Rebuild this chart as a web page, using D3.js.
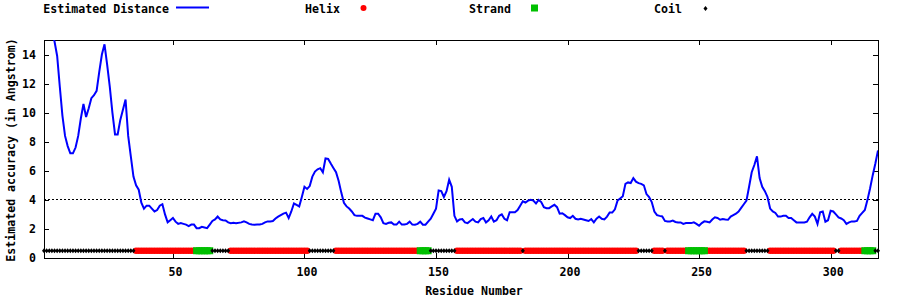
<!DOCTYPE html>
<html>
<head>
<meta charset="utf-8">
<script src="https://cdn.jsdelivr.net/npm/d3@7/dist/d3.min.js"></script>
<style>
  body { margin: 0; background: #fff; }
  text { font-family: 'DejaVu Sans Mono', 'Liberation Mono', monospace; font-weight: bold; font-size: 11.6px; fill: #000; }
</style>
</head>
<body>
<svg width="900" height="300"></svg>
<script>
// estimated distance per residue (residue 1 .. 318)
var distance = [
  18.0, 17.2, 16.4, 15.6, 14.9, 13.9, 11.8, 9.8, 8.4, 7.7,
  7.2, 7.2, 7.6, 8.4, 9.6, 10.6, 9.7, 10.3, 11.0, 11.2,
  11.5, 12.8, 14.0, 14.7, 13.3, 11.8, 10.0, 8.5, 8.5, 9.5,
  10.2, 10.9, 8.4, 7.0, 5.6, 5.0, 4.7, 3.8, 3.4, 3.6,
  3.6, 3.4, 3.2, 3.3, 3.6, 3.7, 3.0, 2.45, 2.6, 2.75,
  2.5, 2.35, 2.4, 2.35, 2.3, 2.2, 2.3, 2.3, 2.05, 2.05,
  2.15, 2.1, 2.05, 2.3, 2.55, 2.65, 2.85, 2.65, 2.6, 2.58,
  2.45, 2.4, 2.42, 2.4, 2.42, 2.45, 2.52, 2.45, 2.35, 2.3,
  2.28, 2.3, 2.3, 2.35, 2.45, 2.52, 2.52, 2.55, 2.72, 2.85,
  2.95, 3.05, 3.12, 2.75, 3.2, 3.75, 3.65, 3.55, 4.2, 4.9,
  4.75, 4.95, 5.6, 5.95, 6.1, 6.18, 5.9, 6.85, 6.82, 6.5,
  6.2, 5.9, 5.3, 4.5, 3.8, 3.55, 3.4, 3.2, 2.95, 2.9,
  2.9, 2.9, 2.78, 2.72, 2.66, 2.6, 3.05, 3.05, 2.8, 2.4,
  2.35, 2.42, 2.45, 2.3, 2.3, 2.5, 2.3, 2.3, 2.35, 2.5,
  2.3, 2.29, 2.35, 2.5, 2.29, 2.29, 2.5, 2.7, 3.05, 3.4,
  4.65, 4.6, 4.2, 4.6, 5.38, 4.9, 2.9, 2.52, 2.65, 2.68,
  2.45, 2.4, 2.55, 2.68, 2.5, 2.45, 2.68, 2.75, 2.45, 2.6,
  2.86, 2.5, 2.6, 2.9, 3.0, 2.7, 2.6, 3.15, 3.15, 3.15,
  3.3, 3.6, 3.9, 3.82, 3.95, 4.01, 3.95, 3.75, 4.0, 3.85,
  3.5, 3.43, 3.43, 3.55, 3.66, 3.5, 3.05, 3.08, 2.95, 2.8,
  2.75, 2.9, 2.7, 2.65, 2.7, 2.65, 2.6, 2.55, 2.68, 2.45,
  2.7, 2.85, 2.7, 2.65, 2.85, 3.13, 3.13, 3.35, 3.95, 4.1,
  4.25, 5.1, 5.2, 5.16, 5.5, 5.25, 5.15, 5.1, 5.0, 4.4,
  4.2, 3.85, 3.2, 2.95, 2.9, 2.86, 2.55, 2.52, 2.52, 2.58,
  2.48, 2.45, 2.45, 2.35, 2.4, 2.4, 2.4, 2.45, 2.35, 2.22,
  2.4, 2.52, 2.5, 2.45, 2.65, 2.8, 2.75, 2.63, 2.68, 2.65,
  2.63, 2.85, 2.95, 3.05, 3.2, 3.45, 3.7, 3.95, 4.9, 5.9,
  6.4, 7.0, 5.5, 4.9, 4.6, 4.2, 3.4, 3.2, 3.1, 2.85,
  2.85, 2.91, 2.9, 2.75, 2.75, 2.6, 2.45, 2.45, 2.45, 2.45,
  2.5, 2.8, 3.04, 2.85, 2.35, 3.15, 3.2, 2.5, 2.6, 3.25,
  3.2, 3.0, 2.8, 2.72, 2.6, 2.35, 2.45, 2.52, 2.52, 2.55,
  2.9, 3.1, 3.3, 4.0, 4.8, 5.7, 6.5, 7.4
];

// secondary structure segments
var ssStart = [1, 36, 59, 65, 72, 102, 112, 144, 148, 158, 183, 184, 227, 233, 237, 238, 246, 253, 268, 277, 302, 304, 313, 317];
var ssEnd   = [35, 58, 64, 71, 101, 111, 143, 147, 157, 182, 183, 226, 232, 236, 237, 245, 252, 267, 276, 301, 303, 312, 316, 318];
var ssType  = ['C', 'H', 'E', 'C', 'H', 'C', 'H', 'E', 'C', 'H', 'C', 'H', 'C', 'H', 'C', 'H', 'E', 'H', 'C', 'H', 'C', 'H', 'E', 'C'];

var cutoff = 4.05;
var yTicks = [0, 2, 4, 6, 8, 10, 12, 14];
var xTicks = [50, 100, 150, 200, 250, 300];
var legendLabels = ['Estimated Distance', 'Helix', 'Strand', 'Coil'];

var margin = {top: 40, right: 22, bottom: 42, left: 44},
    width = 900 - margin.left - margin.right,
    height = 300 - margin.top - margin.bottom;

var points = distance.map(function(d, i) { return {res: i + 1, val: d}; });

var ss = [];
ssStart.forEach(function(s, k) {
  for (var r = s; r <= ssEnd[k]; r++) ss.push({res: r, type: ssType[k]});
});

var x = d3.scaleLinear().domain([1, distance.length]).range([0, width]);
var y = d3.scaleLinear().domain([0, 15]).range([height, 0]);

var svg = d3.select('svg');

svg.append('defs').append('clipPath')
    .attr('id', 'plotclip')
  .append('rect')
    .attr('width', width)
    .attr('height', height);

var g = svg.append('g')
    .attr('transform', 'translate(' + margin.left + ',' + margin.top + ')');

// axes, ticks pointing inward and mirrored
g.append('g')
    .attr('class', 'axis xaxis')
    .attr('transform', 'translate(0,' + height + ')')
    .call(d3.axisBottom(x).tickValues(xTicks).tickSizeInner(-5).tickSizeOuter(0).tickPadding(10));
g.append('g')
    .attr('class', 'axis')
    .call(d3.axisTop(x).tickValues(xTicks).tickSizeInner(-5).tickSizeOuter(0).tickFormat(''));
g.append('g')
    .attr('class', 'axis')
    .call(d3.axisLeft(y).tickValues(yTicks).tickSizeInner(-5).tickSizeOuter(0).tickPadding(8));
g.append('g')
    .attr('class', 'axis')
    .attr('transform', 'translate(' + width + ',0)')
    .call(d3.axisRight(y).tickValues(yTicks).tickSizeInner(-5).tickSizeOuter(0).tickFormat(''));

g.selectAll('.axis .domain').remove();
g.selectAll('.axis text').attr('font-family', null).attr('font-size', null);
g.selectAll('.xaxis text').attr('dx', 2);
g.selectAll('.axis line').attr('shape-rendering', 'crispEdges');

g.append('rect')
    .attr('x', 0.5)
    .attr('y', 0.5)
    .attr('width', width)
    .attr('height', height - 0.5)
    .attr('fill', 'none')
    .attr('stroke', '#000')
    .attr('stroke-width', 1)
    .attr('shape-rendering', 'crispEdges');

// cutoff line
g.append('line')
    .attr('x1', 0)
    .attr('x2', width)
    .attr('y1', y(cutoff))
    .attr('y2', y(cutoff))
    .attr('stroke', '#000')
    .attr('stroke-dasharray', '2,2')
    .attr('shape-rendering', 'crispEdges');

// secondary structure markers
var diamond = 'M0,-2.5L2,0L0,2.5L-2,0Z';

g.selectAll('.helix')
    .data(ss.filter(function(d) { return d.type === 'H'; }))
    .enter()
    .append('circle')
      .classed('helix', true)
      .attr('cx', function(d) { return x(d.res); })
      .attr('cy', y(0.5))
      .attr('r', 3.2)
      .attr('fill', '#ff0000');

g.selectAll('.strand')
    .data(ss.filter(function(d) { return d.type === 'E'; }))
    .enter()
    .append('rect')
      .classed('strand', true)
      .attr('x', function(d) { return x(d.res) - 3.5; })
      .attr('y', y(0.5) - 3.5)
      .attr('width', 7)
      .attr('height', 7)
      .attr('fill', '#00c000');

g.selectAll('.coil')
    .data(ss.filter(function(d) { return d.type === 'C'; }))
    .enter()
    .append('path')
      .classed('coil', true)
      .attr('transform', function(d) { return 'translate(' + x(d.res) + ',' + y(0.5) + ')'; })
      .attr('d', diamond)
      .attr('fill', '#000');

// distance line
var line = d3.line()
    .x(function(d) { return x(d.res); })
    .y(function(d) { return y(d.val); });

g.append('path')
    .datum(points)
    .attr('clip-path', 'url(#plotclip)')
    .attr('fill', 'none')
    .attr('stroke', '#0000ff')
    .attr('stroke-width', 2)
    .attr('stroke-linejoin', 'miter')
    .attr('d', line);

// axis titles
svg.append('text')
    .attr('x', 474)
    .attr('y', 295)
    .style('text-anchor', 'middle')
    .text('Residue Number');

svg.append('text')
    .attr('transform', 'translate(15,150) rotate(-90)')
    .style('text-anchor', 'middle')
    .text('Estimated accuracy (in Angstrom)');

// legend
var key = svg.selectAll('.key')
    .data(legendLabels)
    .enter()
    .append('g')
      .classed('key', true)
      .attr('transform', function(d, i) { return 'translate(' + (192.5 + i * 171) + ',0)'; });

key.append('text')
    .attr('x', -23.5)
    .attr('y', 13)
    .style('text-anchor', 'end')
    .text(function(d) { return d; });

key.filter(function(d, i) { return i === 0; })
  .append('line')
    .attr('x1', -16.5)
    .attr('x2', 16.5)
    .attr('y1', 7.5)
    .attr('y2', 7.5)
    .attr('stroke', '#0000ff')
    .attr('stroke-width', 2);

key.filter(function(d, i) { return i === 1; })
  .append('circle')
    .attr('cy', 8)
    .attr('r', 3)
    .attr('fill', '#ff0000');

key.filter(function(d, i) { return i === 2; })
  .append('rect')
    .attr('x', -3.5)
    .attr('y', 4.5)
    .attr('width', 7)
    .attr('height', 7)
    .attr('fill', '#00c000');

key.filter(function(d, i) { return i === 3; })
  .append('path')
    .attr('transform', 'translate(0,8.5)')
    .attr('d', diamond)
    .attr('fill', '#000');
</script>
</body>
</html>
